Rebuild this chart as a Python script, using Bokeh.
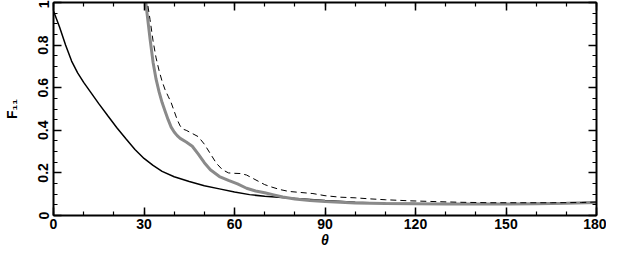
from bokeh.plotting import figure
from bokeh.models import LinearAxis, FixedTicker, CustomJSTickFormatter
from bokeh.embed import file_html
from bokeh.resources import INLINE

# ---- data ----
black_theta = [0, 2, 4, 6, 8, 10, 12, 15, 18, 21, 24, 27, 30, 33, 36, 40, 45, 50, 55, 60, 65, 70,
               78, 90, 100, 110, 120, 130, 140, 150, 160, 170, 180]
black_f11 = [0.96, 0.885, 0.80, 0.725, 0.67, 0.625, 0.585, 0.525, 0.468, 0.412, 0.36, 0.31, 0.268,
             0.235, 0.207, 0.182, 0.16, 0.14, 0.125, 0.11, 0.098, 0.09, 0.082, 0.07, 0.062, 0.058,
             0.056, 0.055, 0.054, 0.055, 0.056, 0.057, 0.062]

gray_theta = [30.2, 31, 32, 33, 34, 35, 36, 37, 38, 39, 40, 41, 42, 44, 46, 48, 50, 52, 55, 58, 61,
              64, 67, 70, 73, 76, 80, 85, 90, 100, 110, 120, 130, 140, 150, 160, 170, 180]
gray_f11 = [1.05, 0.95, 0.83, 0.72, 0.64, 0.58, 0.53, 0.49, 0.45, 0.415, 0.392, 0.375, 0.362, 0.345,
            0.325, 0.288, 0.248, 0.215, 0.183, 0.165, 0.148, 0.128, 0.115, 0.107, 0.097, 0.087,
            0.077, 0.07, 0.066, 0.059, 0.056, 0.055, 0.054, 0.054, 0.054, 0.055, 0.057, 0.061]

dash_theta = [30.8, 32, 33, 34, 35, 36, 37, 38, 39, 40, 41, 42, 43, 44, 46, 48, 50, 52, 54, 56, 58,
              60, 62, 64, 66, 68, 70, 72, 75, 78, 82, 86, 90, 95, 100, 105, 110, 118, 125, 135, 145,
              155, 165, 175, 180]
dash_f11 = [1.03, 0.92, 0.82, 0.74, 0.68, 0.63, 0.59, 0.56, 0.53, 0.49, 0.45, 0.42, 0.405, 0.40,
            0.385, 0.37, 0.335, 0.29, 0.245, 0.215, 0.2, 0.198, 0.197, 0.19, 0.175, 0.16, 0.145,
            0.135, 0.122, 0.113, 0.108, 0.103, 0.093, 0.086, 0.083, 0.078, 0.074, 0.069, 0.066,
            0.062, 0.06, 0.06, 0.06, 0.061, 0.063]

x_major = [0, 30, 60, 90, 120, 150, 180]
x_minor = list(range(0, 181, 10))
y_major = [0, 0.2, 0.4, 0.6, 0.8, 1]
y_labels = ["0", "0.2", "0.4", "0.6", "0.8", "1"]
y_minor = [i * 0.05 for i in range(21)]

FONT = "Liberation Sans"

p = figure(width=606, height=250, x_range=(0, 180), y_range=(0, 1),
           output_backend="svg", toolbar_location=None,
           min_border_left=52, min_border_right=10, min_border_top=2, min_border_bottom=20)
p.grid.visible = False
p.outline_line_color = None
p.background_fill_color = "white"
p.border_fill_color = "white"

p.line(black_theta, black_f11, line_color="black", line_width=1.5)
p.line(gray_theta, gray_f11, line_color="#8a8a8a", line_width=3)
p.line(dash_theta, dash_f11, line_color="black", line_width=1, line_dash="6 4")

def style_axis(ax, ticks, minors, show_labels):
    ax.ticker = FixedTicker(ticks=ticks, minor_ticks=minors)
    ax.axis_line_width = 2
    ax.axis_line_color = "black"
    ax.major_tick_in = 8
    ax.major_tick_out = 0
    ax.minor_tick_in = 4
    ax.minor_tick_out = 0
    ax.major_tick_line_width = 1.5
    ax.minor_tick_line_width = 1.2
    ax.major_label_text_font = FONT
    ax.major_label_text_font_style = "bold"
    ax.major_label_text_color = "black"
    ax.axis_label_text_color = "black"
    if not show_labels:
        ax.formatter = CustomJSTickFormatter(code="return ''")
        ax.major_label_text_font_size = "1px"
        ax.major_label_standoff = 0

xa = p.xaxis[0]
style_axis(xa, x_major, x_minor, True)
xa.major_label_text_font_size = "14px"
xa.major_label_standoff = 3
xa.axis_label = "θ"
xa.axis_label_text_font = FONT
xa.axis_label_text_font_style = "bold italic"
xa.axis_label_text_font_size = "14px"
xa.axis_label_standoff = 0

ya = p.yaxis[0]
style_axis(ya, y_major, y_minor, True)
ya.major_label_text_font_size = "14px"
ya.major_label_orientation = "vertical"
ya.major_label_standoff = 5
ya.major_label_overrides = {v: s for v, s in zip(y_major, y_labels)}
ya.axis_label = "F₁₁"
ya.axis_label_text_font = FONT
ya.axis_label_text_font_style = "bold"
ya.axis_label_text_font_size = "14px"
ya.axis_label_standoff = 16

top = LinearAxis()
style_axis(top, x_major, x_minor, False)
p.add_layout(top, "above")
right = LinearAxis()
style_axis(right, y_major, y_minor, False)
p.add_layout(right, "right")

open("out.html", "w").write(file_html(p, INLINE))
